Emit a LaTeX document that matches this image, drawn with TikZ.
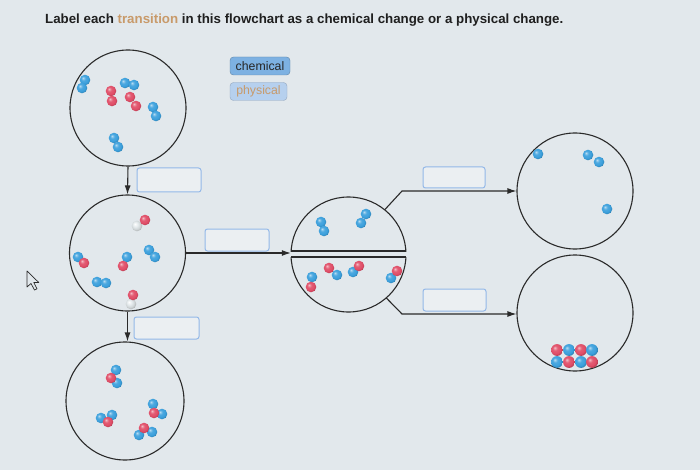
\documentclass[tikz,border=0pt]{standalone}
\usepackage{fontspec}
\setmainfont{Liberation Sans}
\usetikzlibrary{arrows.meta}
\definecolor{bg}{HTML}{E2E8EC}
\definecolor{ink}{HTML}{2A2A2A}
\definecolor{atomblue}{HTML}{3A9FDC}
\definecolor{atomred}{HTML}{E04C66}
\definecolor{atomwhite}{HTML}{E4EAEC}
\definecolor{boxline}{HTML}{93B8E8}
\definecolor{chipA}{HTML}{7DB1E2}
\definecolor{chipB}{HTML}{B6D0EE}
\definecolor{tan}{HTML}{C89A6A}
\pgfdeclareradialshading{blueball}{\pgfpoint{-10bp}{10bp}}{color(0bp)=(atomblue!35!white); color(10bp)=(atomblue!90!white); color(22bp)=(atomblue); color(28bp)=(atomblue!80!black); color(50bp)=(atomblue!80!black)}
\pgfdeclareradialshading{redball}{\pgfpoint{-10bp}{10bp}}{color(0bp)=(atomred!35!white); color(10bp)=(atomred!90!white); color(22bp)=(atomred); color(28bp)=(atomred!80!black); color(50bp)=(atomred!80!black)}
\pgfdeclareradialshading{whiteball}{\pgfpoint{-10bp}{10bp}}{color(0bp)=(white); color(12bp)=(atomwhite); color(22bp)=(atomwhite!90!black); color(28bp)=(atomwhite!75!black); color(50bp)=(atomwhite!75!black)}
\tikzset{
  vessel/.style={circle, draw=ink, line width=1.1pt, minimum size=#1, inner sep=0pt},
  hidvessel/.style={circle, draw=none, minimum size=#1, inner sep=0pt},
  answerbox/.style={draw=boxline, line width=1pt, rounded corners=2.5pt, fill=bg!70!white, minimum width=#1, minimum height=21pt, inner sep=0pt},
  chip/.style={rounded corners=3.5pt, inner sep=0pt, minimum height=18pt, font=\fontsize{12.3}{14}\selectfont},
  flow/.style={draw=ink, line width=1.1pt, -{Latex[length=9pt,width=6pt]}},
  rim/.style={draw=ink, line width=1.1pt},
}
\newcommand{\at}[3]{\shade[shading=#3ball] (#1,#2) circle (5.3pt);}
\newcommand{\bat}[3]{\shade[shading=#3ball] (#1,#2) circle (5.9pt);}
\begin{document}
\begin{tikzpicture}[x=1pt,y=-1pt]
\fill[bg] (0,0) rectangle (700,470);
\useasboundingbox (0,0) rectangle (700,470);

% title
\node[anchor=base west, inner sep=0pt, font=\bfseries\fontsize{13.3}{15}\selectfont, text=black!88] (title) at (45,24)
  {Label each \textcolor{tan}{transition} in this flowchart as a chemical change or a physical change.};

% chips
\node[chip, fill=chipA, draw=chipA!75!black, minimum width=60pt, text=black!85] (chem) at (260,66) {chemical};
\node[chip, fill=chipB, draw=chipB!80!black, minimum width=57pt, text=tan] (phys) at (258.5,91.5) {physical};

% vessels
\node[vessel=116pt] (c1) at (128,108) {};
\node[vessel=116pt] (c2) at (127.5,253) {};
\node[vessel=118pt] (c3) at (125,401) {};
\node[hidvessel=115pt] (s) at (348.5,254.5) {};
\node[vessel=116pt] (r1) at (575,191) {};
\node[vessel=116pt] (r2) at (575,313) {};

% split vessel
\begin{scope}
  \clip (280,180) rectangle (420,251);
  \draw[rim] (s.center) circle (57.5pt);
\end{scope}
\begin{scope}
  \clip (280,257) rectangle (420,330);
  \draw[rim] (s.center) circle (57.5pt);
\end{scope}
\coordinate (chTl) at (291.1,251); \coordinate (chTr) at (405.9,251);
\coordinate (chBl) at (291.4,257); \coordinate (chBr) at (405.6,257);
\draw[rim] (chTl) -- (chTr);
\draw[rim] (chBl) -- (chBr);

% answer boxes
\node[answerbox=64pt, minimum height=24pt] (b1) at (169,180) {};
\node[answerbox=64pt, minimum height=22pt] (b2) at (237,240) {};
\node[answerbox=65pt, minimum height=22pt] (b3) at (166.5,328) {};
\node[answerbox=62pt, minimum height=21pt] (b4) at (454,177.5) {};
\node[answerbox=63pt, minimum height=22pt] (b5) at (454.5,300) {};

% connectors
\draw[flow] (c1.south) -- (c2.north);
\draw[flow] (c2.east) -- (c2.east -| s.west);
\draw[flow] (c2.south) -- (c2.south |- c3.north);
\coordinate (k1) at (402,191);
\coordinate (k2) at (402,314);
\draw[flow] (s.51) -- (k1) -- (k1 -| r1.west);
\draw[flow] (s.-49) -- (k2) -- (k2 -| r2.west);

% molecules in c1
\at{85}{80}{blue}\at{82}{88}{blue}
\at{125}{83}{blue}\at{134}{85}{blue}
\at{111}{91}{red}\at{112}{101}{red}
\at{130}{97}{red}\at{136}{106}{red}
\at{153}{107}{blue}\at{156}{116}{blue}
\at{114}{138}{blue}\at{118}{147}{blue}

% molecules in c2
\at{137}{226}{white}\at{145}{220}{red}
\at{78}{257}{blue}\at{84}{263}{red}
\at{127}{257}{blue}\at{123}{266}{red}
\at{149}{250}{blue}\at{155}{257}{blue}
\at{97}{282}{blue}\at{106}{283}{blue}
\at{131}{304}{white}\at{133}{295}{red}

% molecules in c3
\at{116}{370}{blue}\at{117}{383}{blue}\at{111}{378}{red}
\at{101}{418}{blue}\at{112}{415}{blue}\at{108}{422}{red}
\at{153}{404}{blue}\at{162}{414}{blue}\at{154}{413}{red}
\at{152}{432}{blue}\at{139}{435}{blue}\at{144}{428}{red}

% molecules in split vessel
\at{321}{222}{blue}\at{324}{231}{blue}
\at{366}{214}{blue}\at{361}{223}{blue}
\at{312}{277}{blue}\at{311}{287}{red}
\at{329}{268}{red}\at{337}{275}{blue}
\at{353}{272}{blue}\at{359}{266}{red}
\at{391}{278}{blue}\at{397}{271}{red}

% molecules in r1
\at{538}{154}{blue}
\at{588}{155}{blue}\at{599}{162}{blue}
\at{607}{209}{blue}

% lattice in r2
\bat{557}{350}{red}\bat{569}{350}{blue}\bat{581}{350}{red}\bat{592}{350}{blue}
\bat{557}{362}{blue}\bat{569}{362}{red}\bat{581}{362}{blue}\bat{592}{362}{red}

% mouse pointer
\draw[ink, line width=0.7pt, fill=bg, line join=round]
  (27,271) -- (27,287) -- (31,283.5) -- (34.5,290) -- (37,288.8) -- (33.8,282.5) -- (38.8,282.5) -- cycle;
\end{tikzpicture}
\end{document}
